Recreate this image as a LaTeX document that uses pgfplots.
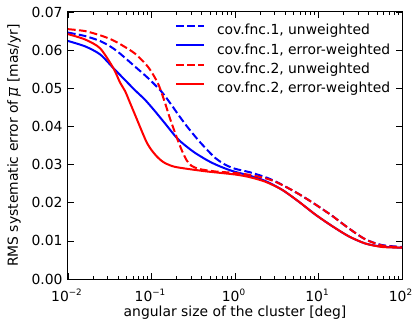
\documentclass[border=0pt]{standalone}
\usepackage{pgfplots}
\pgfplotsset{compat=1.18}
\usepackage{fontspec}
\setmainfont{DejaVu Sans}
\newcommand\tl[1]{10\raisebox{6.7bp}{\fontsize{8.8bp}{10bp}\selectfont #1}}
\begin{document}
\fontsize{13.9bp}{16bp}\selectfont
\begin{tikzpicture}
\useasboundingbox (-68bp,-42bp) rectangle (344bp,279bp);
\begin{axis}[
 at={(0,0)}, anchor=south west,
 scale only axis, width=334bp, height=267bp,
 xmode=log, xmin=0.01, xmax=100, ymin=0, ymax=0.07,
 xtick={0.01,0.1,1,10,100},
 minor xtick={0.02,0.03,0.04,0.05,0.06,0.07,0.08,0.09,0.2,0.3,0.4,0.5,0.6,0.7,0.8,0.9,2,3,4,5,6,7,8,9,20,30,40,50,60,70,80,90},
 xticklabels={\tl{−2},\tl{−1},\tl{0},\tl{1},\tl{2}},
 ytick={0,0.01,0.02,0.03,0.04,0.05,0.06,0.07},
 yticklabels={0.00,0.01,0.02,0.03,0.04,0.05,0.06,0.07},
 scaled y ticks=false,
 tick align=inside, xtick pos=both, ytick pos=both,
 xticklabel pos=lower, yticklabel pos=left,
 major tick length=5.6bp, minor tick length=2.8bp,
 every tick/.style={black, line width=0.7bp},
 axis line style={line width=1bp},
 xticklabel style={inner sep=0pt, anchor=base, yshift=-22.7bp, xshift=-1.5bp},
 yticklabel style={inner sep=0pt, anchor=east, xshift=-5.3bp},
 xlabel={angular size of the cluster [deg]},
 ylabel={RMS systematic error of $\overline{\mbox{\itshape μ}}$ [mas/yr]},
 xlabel style={at={(axis description cs:0.5,-0.1404)}, anchor=base, inner sep=0pt},
 ylabel style={at={(axis description cs:-0.1617,0.5)}, anchor=center, inner sep=0pt},
 legend style={draw=none, fill=none, inner sep=0pt, outer sep=0pt,
   at={(axis description cs:0.3204,0.9535)}, anchor=north west,
   row sep=6.5bp, column sep=12bp, nodes={inner sep=0pt, outer sep=0pt}},
 legend image code/.code={\draw[#1] (0bp,4.5bp) -- (28bp,4.5bp);},
 legend cell align=left,
 every axis plot/.append style={line width=2bp, smooth, tension=0.45},
]
\addplot[blue, dash pattern=on 7.7bp off 3.3bp] coordinates {
(0.01,0.0646) (0.016,0.0637) (0.0242,0.0624) (0.033,0.0608) (0.042,0.0591)
(0.0634,0.0557) (0.0917,0.0526) (0.132,0.0491) (0.174,0.0456) (0.209,0.0431)
(0.264,0.0401) (0.363,0.0364) (0.458,0.0340) (0.575,0.0318) (0.758,0.0300)
(1.0,0.0289) (1.5,0.0280) (2.31,0.0267) (3.04,0.0256) (4.2,0.0240)
(5.79,0.0223) (8,0.0204) (10,0.0190) (14.5,0.0166) (23,0.0133)
(36.4,0.0104) (57.6,0.0089) (100,0.0084)};
\addlegendentry{cov.fnc.1, unweighted}
\addplot[blue] coordinates {
(0.01,0.0624) (0.016,0.0610) (0.0242,0.0589) (0.0349,0.0553) (0.042,0.0535)
(0.0634,0.0495) (0.0836,0.0470) (0.110,0.0440) (0.145,0.0408) (0.209,0.0366)
(0.316,0.0334) (0.458,0.0312) (0.575,0.0301) (0.758,0.0290) (1.0,0.0281)
(1.5,0.0271) (2.31,0.0257) (3.66,0.0234) (5.79,0.0203) (9.16,0.0169)
(14.5,0.0139) (23,0.0112) (36.4,0.0093) (57.6,0.0085) (100,0.0082)};
\addlegendentry{cov.fnc.1, error-weighted}
\addplot[red, dash pattern=on 7.7bp off 3.3bp] coordinates {
(0.01,0.0655) (0.016,0.0650) (0.0242,0.0639) (0.033,0.0628) (0.042,0.0616)
(0.0634,0.0591) (0.0917,0.0555) (0.12,0.0512) (0.145,0.0462) (0.167,0.0420)
(0.2,0.0372) (0.23,0.0338) (0.264,0.0311) (0.3,0.0297) (0.363,0.0289)
(0.458,0.0285) (0.575,0.0282) (0.758,0.0280) (1.0,0.0278) (1.5,0.0273)
(2.31,0.0264) (3.04,0.0255) (4.2,0.0240) (5.79,0.0223) (8,0.0204)
(10,0.0190) (14.5,0.0166) (23,0.0133) (36.4,0.0104) (57.6,0.0088)
(100,0.0083)};
\addlegendentry{cov.fnc.2, unweighted}
\addplot[red] coordinates {
(0.01,0.0642) (0.016,0.0628) (0.0242,0.0605) (0.0349,0.0553) (0.042,0.0515)
(0.0482,0.0493) (0.0553,0.0462) (0.0665,0.0420) (0.0764,0.0388) (0.0877,0.0358)
(0.1,0.0338) (0.115,0.0322) (0.13,0.0311) (0.145,0.0304) (0.167,0.0298)
(0.191,0.0294) (0.264,0.0289) (0.458,0.0282) (1.0,0.0274) (1.5,0.0267)
(2.31,0.0255) (3.66,0.0234) (5.79,0.0203) (9.16,0.0169) (14.5,0.0139)
(23,0.0112) (36.4,0.0093) (57.6,0.0084) (100,0.0082)};
\addlegendentry{cov.fnc.2, error-weighted}
\end{axis}
\end{tikzpicture}
\end{document}
